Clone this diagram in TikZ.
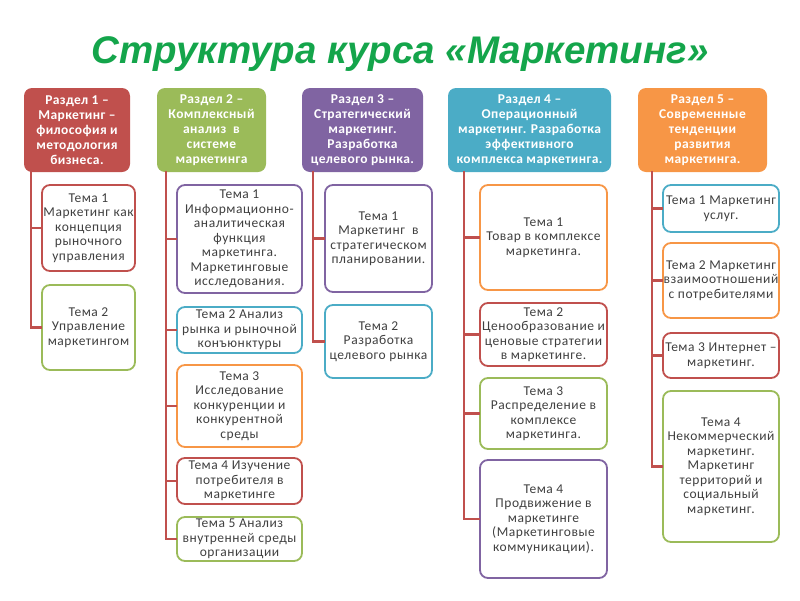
\documentclass[tikz,border=0pt]{standalone}
\usepackage{fontspec}
\setmainfont{Carlito}
\newfontfamily\titlefont{Liberation Sans}
\newfontfamily\temafont[LetterSpace=4]{Carlito}
\newfontfamily\razdelfont[LetterSpace=3]{Carlito}
\usepackage{tikz}

\definecolor{krasn}{HTML}{C0504D}
\definecolor{zelen}{HTML}{9BBB59}
\definecolor{fiolet}{HTML}{8064A2}
\definecolor{biruza}{HTML}{4BACC6}
\definecolor{oranzh}{HTML}{F79646}
\definecolor{zagol}{RGB}{20,165,75}
\definecolor{tekst}{HTML}{404040}

\begin{document}
\begin{tikzpicture}[x=1pt,y=-1pt,
	razdel/.style={rounded corners=8pt,fill=#1,text=white,inner sep=0pt,align=center,
		font=\razdelfont\fontsize{13.5}{15}\selectfont\bfseries},
	tema/.style={rounded corners=8pt,draw=#1,line width=1.8pt,fill=white,text=tekst,inner sep=0pt,
		align=center,font=\temafont\fontsize{13.5}{14.5}\selectfont},
	sviaz/.style={draw=krasn,line width=2.6pt,line cap=rect}]
		\useasboundingbox (0,0) rectangle (800,600);
		% zagolovok
		\node[text=zagol,font=\titlefont\fontsize{38.5}{42}\selectfont\bfseries\itshape] (title) at (400,54) {Структура курса «Маркетинг»};
		% razdely
		\begin{scope}
		\node[razdel=krasn,minimum width=106,minimum height=84] (h1) at (77,130) {Раздел 1 –\\Маркетинг –\\философия и\\методология\\бизнеса.};
		\node[razdel=zelen,minimum width=109,minimum height=84] (h2) at (211.5,130) {Раздел 2 –\\Комплексный\\анализ~ в\\системе\\маркетинга};
		\node[razdel=fiolet,minimum width=121,minimum height=84] (h3) at (362.5,130) {Раздел 3 –\\Стратегический\\маркетинг.\\Разработка\\целевого рынка.};
		\node[razdel=biruza,minimum width=163,minimum height=84] (h4) at (529.5,130) {Раздел 4 –\\Операционный\\маркетинг. Разработка\\эффективного\\комплекса маркетинга.};
		\node[razdel=oranzh,minimum width=129,minimum height=84] (h5) at (702.5,130) {Раздел 5 –\\Современные\\тенденции\\развития\\маркетинга.};
		\end{scope}
		% temy, razdel 1
		\node[tema=krasn,minimum width=93,minimum height=86] (t11) at (88.5,228) {Тема 1\\Маркетинг как\\концепция\\рыночного\\управления};
		\node[tema=zelen,minimum width=93,minimum height=85] (t12) at (88.5,327.5) {Тема 2\\Управление\\маркетингом};
		% temy, razdel 2
		\node[tema=fiolet,minimum width=125,minimum height=108] (t21) at (239.5,239) {Тема 1\\Информационно-\\аналитическая\\функция\\маркетинга.\\Маркетинговые\\исследования.};
		\node[tema=biruza,minimum width=125,minimum height=46] (t22) at (239.5,330) {Тема 2 Анализ\\рынка и рыночной\\конъюнктуры};
		\node[tema=oranzh,minimum width=125,minimum height=82] (t23) at (239.5,406) {Тема 3\\Исследование\\конкуренции и\\конкурентной\\среды};
		\node[tema=krasn,minimum width=125,minimum height=46] (t24) at (239.5,481) {Тема 4 Изучение\\потребителя в\\маркетинге};
		\node[tema=zelen,minimum width=125,minimum height=44] (t25) at (239.5,539) {Тема 5 Анализ\\внутренней среды\\организации};
		% temy, razdel 3
		\node[tema=fiolet,minimum width=107,minimum height=107] (t31) at (378.5,238.5) {Тема 1\\Маркетинг~ в\\стратегическом\\планировании.};
		\node[tema=biruza,minimum width=107,minimum height=73] (t32) at (378.5,341.5) {Тема 2\\Разработка\\целевого рынка};
		% temy, razdel 4
		\node[tema=oranzh,minimum width=127,minimum height=105] (t41) at (543.5,237.5) {Тема 1\\Товар в комплексе\\маркетинга.};
		\node[tema=krasn,minimum width=127,minimum height=63] (t42) at (543.5,334.5) {Тема 2\\Ценообразование и\\ценовые стратегии\\в маркетинге.};
		\node[tema=zelen,minimum width=127,minimum height=71] (t43) at (543.5,413.5) {Тема 3\\Распределение в\\комплексе\\маркетинга.};
		\node[tema=fiolet,minimum width=127,minimum height=118] (t44) at (543.5,519) {Тема 4\\Продвижение в\\маркетинге\\(Маркетинговые\\коммуникации).};
		% temy, razdel 5
		\node[tema=biruza,minimum width=116,minimum height=47] (t51) at (721,208.5) {Тема 1 Маркетинг\\услуг.};
		\node[tema=oranzh,minimum width=116,minimum height=75] (t52) at (721,280.5) {Тема 2 Маркетинг\\взаимоотношений\\с потребителями};
		\node[tema=krasn,minimum width=116,minimum height=45] (t53) at (721,355.5) {Тема 3 Интернет –\\маркетинг.};
		\node[tema=zelen,minimum width=116,minimum height=151] (t54) at (721,466.5) {Тема 4\\Некоммерческий\\маркетинг.\\Маркетинг\\территорий и\\социальный\\маркетинг.};
		% sviazi
		\coordinate (k1) at ([xshift=7pt]h1.south west);
		\coordinate (k2) at ([xshift=9pt]h2.south west);
		\coordinate (k3) at ([xshift=11pt]h3.south west);
		\coordinate (k4) at ([xshift=16pt]h4.south west);
		\coordinate (k5) at ([xshift=14pt]h5.south west);
		\draw[sviaz] (k1) -- (k1 |- t12.west);
		\draw[sviaz] (k2) -- (k2 |- t25.west);
		\draw[sviaz] (k3) -- (k3 |- t32.west);
		\draw[sviaz] (k4) -- (k4 |- t44.west);
		\draw[sviaz] (k5) -- (k5 |- t54.west);
		\foreach \tm in {t11,t12} \draw[sviaz] (k1 |- \tm.west) -- (\tm.west);
		\foreach \tm in {t21,t22,t23,t24,t25} \draw[sviaz] (k2 |- \tm.west) -- (\tm.west);
		\foreach \tm in {t31,t32} \draw[sviaz] (k3 |- \tm.west) -- (\tm.west);
		\foreach \tm in {t41,t42,t43,t44} \draw[sviaz] (k4 |- \tm.west) -- (\tm.west);
		\foreach \tm in {t51,t52,t53,t54} \draw[sviaz] (k5 |- \tm.west) -- (\tm.west);
\end{tikzpicture}
\end{document}
